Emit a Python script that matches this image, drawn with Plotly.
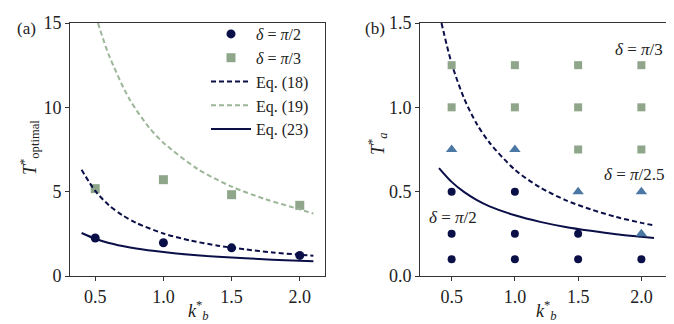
import plotly.graph_objects as go

# ---------------- data ----------------
k_pts = [0.5, 1.0, 1.5, 2.0]
a_pi2 = [2.25, 1.97, 1.67, 1.22]
a_pi3 = [5.18, 5.71, 4.82, 4.19]

eq18a_k = [0.4, 0.5, 0.6, 0.7, 0.8, 1.0, 1.2, 1.4, 1.6, 1.8, 2.0, 2.1]
eq18a_T = [6.3, 5.04, 4.2, 3.6, 3.15, 2.52, 2.1, 1.8, 1.58, 1.4, 1.26, 1.2]
eq19a_k = [0.52, 0.6, 0.75, 0.9, 1.0, 1.25, 1.5, 1.75, 2.0, 2.1]
eq19a_T = [15.0, 13.1, 10.5, 8.75, 7.9, 6.35, 5.3, 4.55, 3.95, 3.7]
eq23a_k = [0.4, 0.5, 0.6, 0.7, 0.8, 1.0, 1.2, 1.4, 1.6, 1.8, 2.0, 2.1]
eq23a_T = [2.55, 2.21, 1.96, 1.78, 1.63, 1.42, 1.26, 1.14, 1.05, 0.97, 0.91, 0.88]

b_pi2_k = [0.5, 0.5, 0.5, 1.0, 1.0, 1.0, 1.5, 1.5, 2.0]
b_pi2_T = [0.1, 0.25, 0.5, 0.1, 0.25, 0.5, 0.1, 0.25, 0.1]
b_pi25_k = [0.5, 1.0, 1.5, 2.0, 2.0]
b_pi25_T = [0.75, 0.75, 0.5, 0.5, 0.25]
b_pi3_k = [0.5, 0.5, 1.0, 1.0, 1.5, 1.5, 1.5, 2.0, 2.0, 2.0]
b_pi3_T = [1.0, 1.25, 1.0, 1.25, 0.75, 1.0, 1.25, 0.75, 1.0, 1.25]

eq18b_k = [0.42, 0.5, 0.6, 0.7, 0.8, 1.0, 1.2, 1.4, 1.6, 1.8, 2.0, 2.1]
eq18b_T = [1.5, 1.26, 1.05, 0.9, 0.79, 0.63, 0.525, 0.45, 0.395, 0.35, 0.315, 0.30]
eq23b_k = [0.4, 0.5, 0.6, 0.7, 0.8, 1.0, 1.2, 1.4, 1.6, 1.8, 2.0, 2.1]
eq23b_T = [0.64, 0.558, 0.497, 0.45, 0.413, 0.36, 0.321, 0.291, 0.268, 0.248, 0.233, 0.225]

# ---------------- styles ----------------
NAVY = "#0b0f48"
GREEN = "#8fa68a"
GREEN_LINE = "#9cb698"
BLUE = "#4a77a3"
FONT = "Liberation Serif, DejaVu Serif, serif"
DASH = "5px,3px"

fig = go.Figure()

# panel (a)
fig.add_trace(go.Scatter(x=k_pts, y=a_pi2, mode="markers", name="<i>δ</i> = <i>π</i>/2",
                         legendgroup="g1",
                         marker=dict(color=NAVY, size=9, symbol="circle"),
                         xaxis="x", yaxis="y"))
fig.add_trace(go.Scatter(x=k_pts, y=a_pi3, mode="markers", name="<i>δ</i> = <i>π</i>/3",
                         legendgroup="g2",
                         marker=dict(color=GREEN, size=9, symbol="square"),
                         xaxis="x", yaxis="y"))
fig.add_trace(go.Scatter(x=eq18a_k, y=eq18a_T, mode="lines", name="Eq. (18)",
                         legendgroup="g3",
                         line=dict(color=NAVY, width=2, dash=DASH, shape="spline", smoothing=0.8),
                         xaxis="x", yaxis="y"))
fig.add_trace(go.Scatter(x=eq19a_k, y=eq19a_T, mode="lines", name="Eq. (19)",
                         legendgroup="g4",
                         line=dict(color=GREEN_LINE, width=2, dash=DASH, shape="spline", smoothing=0.8),
                         xaxis="x", yaxis="y"))
fig.add_trace(go.Scatter(x=eq23a_k, y=eq23a_T, mode="lines", name="Eq. (23)",
                         legendgroup="g5",
                         line=dict(color=NAVY, width=2, shape="spline", smoothing=0.8),
                         xaxis="x", yaxis="y"))

# panel (b)
fig.add_trace(go.Scatter(x=eq18b_k, y=eq18b_T, mode="lines", showlegend=False,
                         line=dict(color=NAVY, width=2, dash=DASH, shape="spline", smoothing=0.8),
                         xaxis="x2", yaxis="y2"))
fig.add_trace(go.Scatter(x=eq23b_k, y=eq23b_T, mode="lines", showlegend=False,
                         line=dict(color=NAVY, width=2, shape="spline", smoothing=0.8),
                         xaxis="x2", yaxis="y2"))
fig.add_trace(go.Scatter(x=b_pi3_k, y=b_pi3_T, mode="markers", showlegend=False,
                         marker=dict(color=GREEN, size=8, symbol="square"),
                         xaxis="x2", yaxis="y2"))
fig.add_trace(go.Scatter(x=b_pi25_k, y=b_pi25_T, mode="markers", showlegend=False,
                         marker=dict(color=BLUE, size=10, symbol="triangle-up"),
                         xaxis="x2", yaxis="y2"))
fig.add_trace(go.Scatter(x=b_pi2_k, y=b_pi2_T, mode="markers", showlegend=False,
                         marker=dict(color=NAVY, size=8, symbol="circle"),
                         xaxis="x2", yaxis="y2"))

W, H = 674, 324
ydom = [(324 - 268) / H, (324 - 15) / H]
axis_common = dict(showgrid=False, zeroline=False, showline=True, mirror=True,
                   linecolor="#333333", linewidth=1, ticks="outside", ticklen=4,
                   tickcolor="#333333", tickfont=dict(family=FONT, size=18, color="#222"),
                   automargin=False)

fig.update_layout(
    width=W, height=H,
    margin=dict(l=0, r=0, t=0, b=0),
    paper_bgcolor="white", plot_bgcolor="white",
    font=dict(family=FONT, size=16, color="#222"),
    xaxis=dict(domain=[62 / W, 317 / W], range=[0.315, 2.185],
               tickvals=[0.5, 1.0, 1.5, 2.0], ticktext=["0.5", "1.0", "1.5", "2.0"],
               anchor="y", **axis_common),
    yaxis=dict(domain=ydom, range=[0, 15], tickvals=[0, 5, 10, 15],
               anchor="x", **axis_common),
    xaxis2=dict(domain=[412 / W, 665 / W], range=[0.25, 2.25],
                tickvals=[0.5, 1.0, 1.5, 2.0], ticktext=["0.5", "1.0", "1.5", "2.0"],
                anchor="y2", **axis_common),
    yaxis2=dict(domain=ydom, range=[0, 1.5], tickvals=[0, 0.5, 1.0, 1.5],
                ticktext=["0.0", "0.5", "1.0", "1.5"],
                anchor="x2", **axis_common),
    legend=dict(x=306 / W, xanchor="right", y=(324 - 9) / H, yanchor="top",
                bgcolor="rgba(0,0,0,0)", borderwidth=0,
                font=dict(family=FONT, size=16, color="#222"),
                itemwidth=40, tracegroupgap=0),
    showlegend=True,
)

ann_font = dict(family=FONT, size=17, color="#222")
title_font = dict(family=FONT, size=18, color="#222")


def pa(text, x, y, **kw):
    fig.add_annotation(text=text, x=x / W, y=(H - y) / H, xref="paper", yref="paper",
                       showarrow=False, **kw)


pa("(a)", 7, 20, xanchor="left", yanchor="middle", font=ann_font)
pa("(b)", 355, 20, xanchor="left", yanchor="middle", font=ann_font)
# axis titles
pa("<i>k</i><sup>*</sup><sub><i>b</i></sub>", 190, 302, xanchor="center", yanchor="middle", font=title_font)
pa("<i>k</i><sup>*</sup><sub><i>b</i></sub>", 538, 302, xanchor="center", yanchor="middle", font=title_font)
pa("<i>T</i><sup>*</sup><sub>optimal</sub>", 21, 140, xanchor="center", yanchor="middle",
   textangle=-90, font=title_font)
pa("<i>T</i><sup>*</sup><sub><i>a</i></sub>", 369, 136, xanchor="center", yanchor="middle",
   textangle=-90, font=title_font)

fig.add_annotation(text="<i>δ</i> = <i>π</i>/3", x=2.19, y=1.34, xref="x2", yref="y2",
                   xanchor="right", yanchor="middle", showarrow=False, font=ann_font)
fig.add_annotation(text="<i>δ</i> = <i>π</i>/2.5", x=2.2, y=0.60, xref="x2", yref="y2",
                   xanchor="right", yanchor="middle", showarrow=False, font=ann_font)
fig.add_annotation(text="<i>δ</i> = <i>π</i>/2", x=0.51, y=0.345, xref="x2", yref="y2",
                   xanchor="center", yanchor="middle", showarrow=False, font=ann_font)

fig.write_html("out.html")
